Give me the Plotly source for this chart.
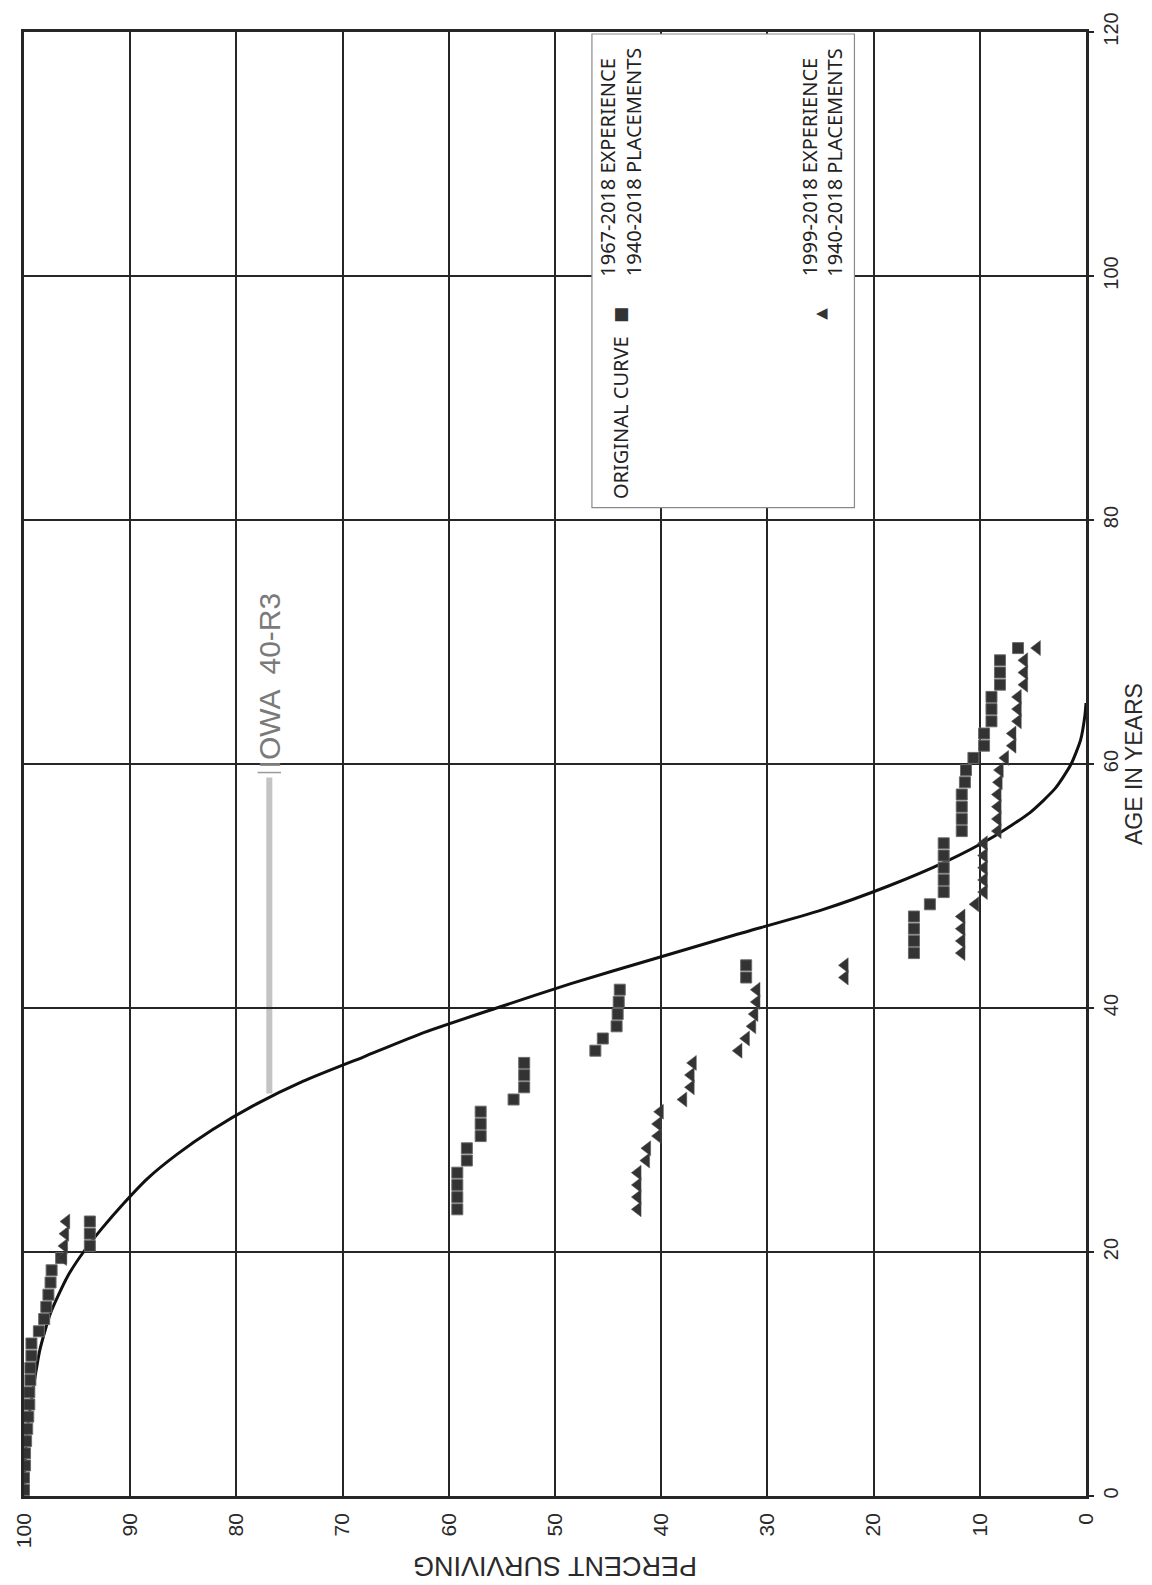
import plotly.graph_objects as go

# ---------------- data (age in years, percent surviving) ----------------
curve_age = [0, 3, 6, 9, 12, 15, 18, 20, 22, 24, 26, 28, 30, 32, 34, 36, 38, 40,
             42, 44, 46, 48, 50, 52, 54, 56, 58, 60, 62, 64, 65]
curve_pct = [100, 99.9, 99.6, 99.1, 98.5, 97.5, 95.9, 94.4, 92.6, 90.6, 88.4, 85.6,
             82.3, 78.4, 73.7, 68.0, 62.3, 55.5, 48.5, 40.8, 33.0, 25.0, 18.6, 13.2,
             8.8, 5.3, 2.9, 1.4, 0.5, 0.1, 0.0]

sq_age = [0.5, 1.5, 2.5, 3.5, 4.5, 5.5, 6.5, 7.5, 8.5, 9.5, 10.5, 11.5, 12.5, 13.5,
          14.5, 15.5, 16.5, 17.5, 18.5, 19.5, 20.5, 21.5, 22.5, 23.5, 24.5, 25.5,
          26.5, 27.5, 28.5, 29.5, 30.5, 31.5, 32.5, 33.5, 34.5, 35.5, 36.5, 37.5,
          38.5, 39.5, 40.5, 41.5, 42.5, 43.5, 44.5, 45.5, 46.5, 47.5, 48.5, 49.5,
          50.5, 51.5, 52.5, 53.5, 54.5, 55.5, 56.5, 57.5, 58.5, 59.5, 60.5, 61.5,
          62.5, 63.5, 64.5, 65.5, 66.5, 67.5, 68.5, 69.5]
sq_pct = [100, 100, 99.9, 99.9, 99.8, 99.7, 99.6, 99.5, 99.5, 99.4, 99.4, 99.3, 99.3,
          98.6, 98.1, 97.9, 97.7, 97.5, 97.4, 96.5, 93.8, 93.8, 93.8, 59.2, 59.2,
          59.2, 59.2, 58.3, 58.3, 57.0, 57.0, 57.0, 53.9, 52.9, 52.9, 52.9, 46.2,
          45.5, 44.2, 44.1, 44.0, 43.9, 32.0, 32.0, 16.2, 16.2, 16.2, 16.2, 14.7,
          13.4, 13.4, 13.4, 13.4, 13.4, 11.7, 11.7, 11.7, 11.7, 11.4, 11.3, 10.6,
          9.6, 9.6, 8.9, 8.9, 8.9, 8.1, 8.1, 8.1, 6.4]

tri_age = [19.5, 20.5, 21.5, 22.5, 23.5, 24.5, 25.5, 26.5, 27.5, 28.5, 29.5, 30.5,
           31.5, 32.5, 33.5, 34.5, 35.5, 36.5, 37.5, 38.5, 39.5, 40.5, 41.5, 42.5,
           43.5, 44.5, 45.5, 46.5, 47.5, 48.5, 49.5, 50.5, 51.5, 52.5, 53.5, 54.5,
           55.5, 56.5, 57.5, 58.5, 59.5, 60.5, 61.5, 62.5, 63.5, 64.5, 65.5, 66.5,
           67.5, 68.5, 69.5]
tri_pct = [96.3, 96.2, 96.1, 96.0, 42.2, 42.2, 42.2, 42.2, 41.4, 41.3, 40.3, 40.3,
           40.1, 37.9, 37.2, 37.2, 37.0, 32.7, 32.0, 31.4, 31.2, 31.0, 31.0, 22.7,
           22.7, 11.7, 11.7, 11.7, 11.7, 10.4, 9.6, 9.6, 9.6, 9.6, 9.6, 8.3, 8.3,
           8.3, 8.3, 8.2, 8.1, 7.6, 6.9, 6.9, 6.4, 6.4, 6.4, 5.8, 5.8, 5.8, 4.6]

pct_ticks = [0, 10, 20, 30, 40, 50, 60, 70, 80, 90, 100]
age_ticks = [0, 20, 40, 60, 80, 100, 120]

legend_lines = ["1967-2018 EXPERIENCE", "1940-2018 PLACEMENTS",
                "1999-2018 EXPERIENCE", "1940-2018 PLACEMENTS"]

# ---------------- layout helpers (pixel -> data) ----------------
W, H = 1152, 1585
L, R, T, B = 22, 66, 28, 89
x0px, x1px = L, W - R          # 100 % ... 0 %
y0px, y1px = H - B, T          # age 0 ... age 120


def px_pct(px):
    return 100 - (px - x0px) / (x1px - x0px) * 100


def py_age(py):
    return (y0px - py) / (y0px - y1px) * 120


GRID = "#262626"
TXT = "#2a2a2a"
FONT = "Liberation Sans, Arial, sans-serif"

fig = go.Figure()

fig.add_trace(go.Scatter(
    x=curve_pct, y=curve_age, mode="lines",
    line=dict(color="#111111", width=3, shape="spline", smoothing=0.6),
    showlegend=False, hoverinfo="skip"))

fig.add_trace(go.Scatter(
    x=sq_pct, y=sq_age, mode="markers",
    marker=dict(symbol="square", size=11, color="#333333",
                line=dict(color="#6a6a6a", width=1)),
    showlegend=False))

fig.add_trace(go.Scatter(
    x=tri_pct, y=tri_age, mode="markers",
    marker=dict(symbol="triangle-left", size=13, color="#333333",
                line=dict(color="#555555", width=0.5)),
    showlegend=False))

# IOWA 40-R3 label with grey leader bar
fig.add_shape(type="line", xref="x", yref="y",
              x0=76.9, x1=76.9, y0=33.0, y1=58.9,
              line=dict(color="#c4c4c4", width=6), layer="below")
fig.add_shape(type="line", xref="x", yref="y",
              x0=78.0, x1=75.8, y0=59.3, y1=59.3,
              line=dict(color="#9a9a9a", width=1.5), layer="below")
fig.add_annotation(x=76.9, y=59.5, xref="x", yref="y", text="IOWA  40-R3",
                   textangle=-90, showarrow=False, xanchor="center",
                   yanchor="bottom",
                   font=dict(family=FONT, size=30, color="#7a7a7a"))

# legend box
bx0, bx1, by0, by1 = 591, 854, 30, 505
fig.add_shape(type="rect", xref="x", yref="y",
              x0=px_pct(bx0), x1=px_pct(bx1), y0=py_age(by1), y1=py_age(by0),
              fillcolor="white", line=dict(color="#8a8a8a", width=1.2),
              layer="above")

LFONT = dict(family="Noto Sans, Open Sans, sans-serif", size=20, color="#222222")
col_x = [607, 632, 809, 834]
for txt, cx in zip(legend_lines, col_x):
    fig.add_annotation(x=px_pct(cx), y=py_age(275), xref="x", yref="y",
                       text=txt, textangle=-90, showarrow=False,
                       xanchor="center", yanchor="bottom", font=LFONT)
fig.add_annotation(x=px_pct(619), y=py_age(498), xref="x", yref="y",
                   text="ORIGINAL CURVE", textangle=-90, showarrow=False,
                   xanchor="center", yanchor="bottom", font=LFONT)
fig.add_annotation(x=px_pct(619), y=py_age(312), xref="x", yref="y",
                   text="■", textangle=-90, showarrow=False,
                   xanchor="center", yanchor="middle",
                   font=dict(family="DejaVu Sans", size=17, color="#333333"))
fig.add_annotation(x=px_pct(821), y=py_age(310), xref="x", yref="y",
                   text="◀", showarrow=False,
                   xanchor="center", yanchor="middle",
                   font=dict(family="DejaVu Sans", size=15, color="#333333"))

# axis titles (rotated like the rest of the chart)
fig.add_annotation(x=50, y=0, xref="x", yref="paper", yshift=-70,
                   text="PERCENT SURVIVING", textangle=180, showarrow=False,
                   xanchor="center", yanchor="middle",
                   font=dict(family=FONT, size=27, color=TXT))
fig.add_annotation(x=1, y=60, xref="paper", yref="y", xshift=48,
                   text="AGE IN YEARS", textangle=-90, showarrow=False,
                   xanchor="center", yanchor="middle",
                   font=dict(family=FONT, size=23, color=TXT))

fig.update_xaxes(range=[100, 0], tickvals=pct_ticks,
                 ticktext=[str(v) for v in pct_ticks], tickangle=-90,
                 showgrid=True, gridcolor=GRID, gridwidth=2,
                 showline=True, linecolor=GRID, linewidth=2.5, mirror=True,
                 zeroline=False, ticks="", ticklabelstandoff=6,
                 tickfont=dict(family=FONT, size=21, color=TXT))
fig.update_yaxes(range=[0, 120], tickvals=age_ticks,
                 ticktext=[str(v) for v in age_ticks], tickangle=-90,
                 side="right",
                 showgrid=True, gridcolor=GRID, gridwidth=2,
                 showline=True, linecolor=GRID, linewidth=3, mirror=True,
                 zeroline=False, ticks="outside", ticklen=5, tickcolor=GRID,
                 tickwidth=1.5, ticklabelstandoff=0,
                 tickfont=dict(family=FONT, size=20, color=TXT))

fig.update_layout(width=W, height=H,
                  margin=dict(l=L, r=R, t=T, b=B),
                  paper_bgcolor="white", plot_bgcolor="white",
                  showlegend=False)

fig.write_html("out.html")
